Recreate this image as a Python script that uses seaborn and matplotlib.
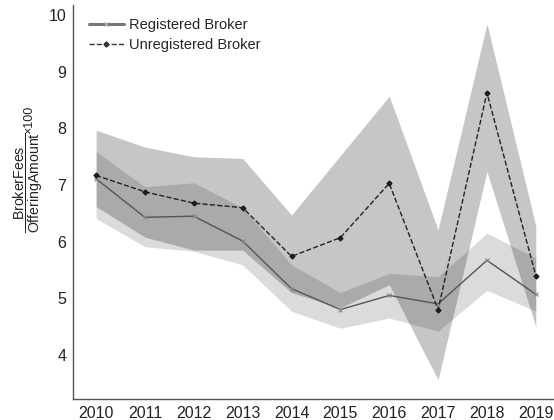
import numpy as np
import pandas as pd
import seaborn as sns
import matplotlib
matplotlib.use('Agg')
import matplotlib.pyplot as plt
from matplotlib.lines import Line2D

years = [2010, 2011, 2012, 2013, 2014, 2015, 2016, 2017, 2018, 2019]

# registered broker: mean and band
reg_mean = [7.11, 6.43, 6.45, 6.01, 5.17, 4.80, 5.05, 4.90, 5.67, 5.07]
reg_low = [6.41, 5.91, 5.83, 5.59, 4.77, 4.47, 4.65, 4.42, 5.14, 4.77]
reg_high = [7.59, 6.97, 7.04, 6.60, 5.59, 5.10, 5.44, 5.38, 6.15, 5.71]

# unregistered broker: mean and band
unreg_mean = [7.17, 6.88, 6.68, 6.60, 5.74, 6.07, 7.03, 4.80, 8.63, 5.40]
unreg_low = [6.62, 6.08, 5.85, 5.85, 5.10, 4.83, 5.24, 3.56, 7.24, 4.50]
unreg_high = [7.97, 7.67, 7.50, 7.47, 6.47, 7.52, 8.57, 6.21, 9.85, 6.28]

df = pd.DataFrame({'year': years, 'reg': reg_mean, 'unreg': unreg_mean})

sns.set_theme(style='white')
plt.rcParams['font.family'] = ['Liberation Sans', 'DejaVu Sans']
plt.rcParams['mathtext.fontset'] = 'custom'
plt.rcParams['mathtext.rm'] = 'Liberation Sans'
plt.rcParams['mathtext.it'] = 'Liberation Sans'

fig = plt.figure(figsize=(5.54, 4.2), dpi=100)
ax = fig.add_axes([0.132, 0.05, 0.866, 0.938])

# bands
ax.fill_between(years, unreg_low, unreg_high, color='black', alpha=0.225, lw=0)
ax.fill_between(years, reg_low, reg_high, color='black', alpha=0.14, lw=0)

sns.lineplot(data=df, x='year', y='reg', ax=ax, color='#555555', lw=1,
             marker='x', markersize=2.6, mew=0.8, mec='#888888')
sns.lineplot(data=df, x='year', y='unreg', ax=ax, color='#222222', lw=1,
             linestyle='--', marker='D', markersize=2.6, mec='#111111')

ax.set_xlim(2009.53, 2019.35)
ax.set_ylim(3.22, 10.18)
ax.set_xticks(years)
ax.set_yticks([4, 5, 6, 7, 8, 9, 10])
ax.tick_params(axis='both', labelsize=11.5, length=0, pad=5, colors='#222222')
ax.set_xlabel('')
ax.set_ylabel(r'$\dfrac{\mathrm{BrokerFees}}{\mathrm{OfferingAmount}}$',
              fontsize=10.2, color='#222222')
ax.yaxis.set_label_coords(-0.058, 0.55)
fig.text(0.053, 0.714, '×100', rotation=90, ha='center', va='center',
         fontsize=9, color='#222222')

for s in ['top', 'right']:
    ax.spines[s].set_visible(False)
for s in ['left', 'bottom']:
    ax.spines[s].set_color('#555555')
    ax.spines[s].set_linewidth(1)

handles = [
    Line2D([], [], color='#777777', lw=2.2, marker='x', markersize=2.6, mec='#aaaaaa'),
    Line2D([], [], color='#333333', lw=1, linestyle='--', marker='D', markersize=2.6),
]
ax.legend(handles, ['Registered Broker', 'Unregistered Broker'], loc='upper left',
          frameon=False, fontsize=10.5, handlelength=2.4, handletextpad=0.4,
          labelspacing=0.4, bbox_to_anchor=(0.005, 1.0))

fig.savefig('out.png', dpi=100)
